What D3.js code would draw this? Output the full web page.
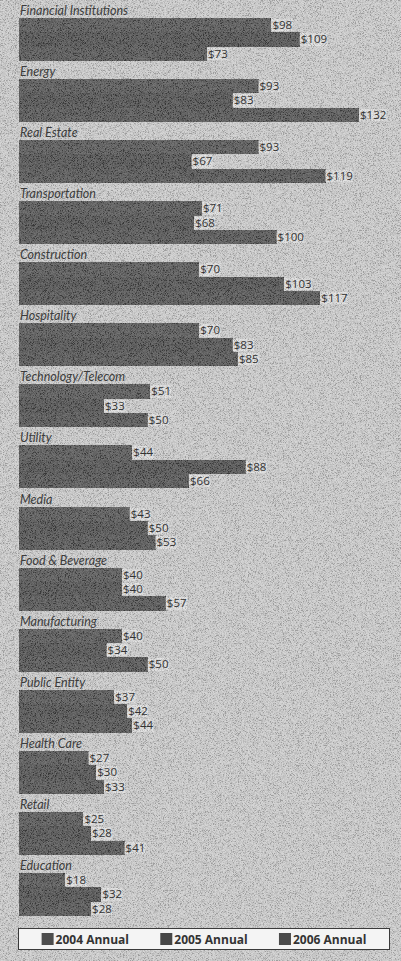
<!DOCTYPE html>
<html><head><meta charset="utf-8">
<script src="https://cdn.jsdelivr.net/npm/d3@7"></script>
<style>html,body{margin:0;padding:0;background:#cfcfcf;}svg{display:block;}</style>
</head><body>
<script>
const categories = ["Financial Institutions","Energy","Real Estate","Transportation","Construction","Hospitality","Technology/Telecom","Utility","Media","Food & Beverage","Manufacturing","Public Entity","Health Care","Retail","Education"];
const seriesNames = ["2004 Annual","2005 Annual","2006 Annual"];
const values2004 = [98,93,93,71,70,70,51,44,43,40,40,37,27,25,18];
const values2005 = [109,83,67,68,103,83,33,88,50,40,34,42,30,28,32];
const values2006 = [73,132,119,100,117,85,50,66,53,57,50,44,33,41,28];
const seriesValues = [values2004, values2005, values2006];

const W = 401, H = 961;
const svg = d3.select("body").append("svg").attr("width", W).attr("height", H);

const defs = svg.append("defs");
const f = defs.append("filter").attr("id","noise").attr("x",0).attr("y",0).attr("width","100%").attr("height","100%");
f.append("feTurbulence").attr("type","fractalNoise").attr("baseFrequency",1.4).attr("numOctaves",1).attr("seed",5).attr("result","t");
f.append("feColorMatrix").attr("in","t").attr("type","matrix")
  .attr("values","3 0 0 0 -1  3 0 0 0 -1  3 0 0 0 -1  0 0 0 0 0.22");

svg.append("rect").attr("width",W).attr("height",H).attr("fill","#cbcbcb");

const x = d3.scaleLinear().domain([0,132]).range([19,359]);
const y0 = d3.scaleBand().domain(categories).range([18, 18 + 61.07*15]).paddingInner(0).paddingOuter(0).round(false);
const barBlock = 43;
const y1 = d3.scaleBand().domain(seriesNames).range([0, barBlock]);
const colors = d3.scaleOrdinal().domain(seriesNames).range(["#4d4d4d","#464646","#4a4a4a"]);

const rows = categories.map((c,i) => seriesNames.map((s,j) => ({c, s, v: seriesValues[j][i]})));
const yTop = d => Math.round(y0(d.c) + y1(d.s));
const yBot = d => Math.round(y0(d.c) + y1(d.s) + y1.bandwidth());

const barLayer = svg.append("g");
barLayer.selectAll("rect.bar").data(rows.flat())
  .join("rect").attr("class","bar")
  .attr("x", x(0)).attr("y", yTop)
  .attr("width", d => x(d.v) - x(0)).attr("height", d => yBot(d) - yTop(d))
  .attr("shape-rendering","crispEdges")
  .attr("fill", d => colors(d.s));

// label backgrounds (under grain)
const bgLayer = svg.append("g");
bgLayer.selectAll("rect").data(rows.flat()).join("rect")
  .attr("x", d => x(d.v)).attr("y", d => yTop(d) + 1)
  .attr("height", d => yBot(d) - yTop(d) - 2)
  .attr("width", d => ("$"+d.v).length*6.4 + 2).attr("fill","#dedede");

// grain overlay
svg.append("rect").attr("width",W).attr("height",H).attr("filter","url(#noise)").attr("pointer-events","none");

const textLayer = svg.append("g");
textLayer.selectAll("text.cat").data(categories).join("text").attr("class","cat").text(d => d)
  .attr("x", 20).attr("y", d => y0(d) - 3)
  .attr("font-family","Lato, 'Noto Sans', sans-serif").attr("font-style","italic")
  .attr("font-size", 12.5).attr("fill","#3c3c3c");

textLayer.selectAll("text.val").data(rows.flat()).join("text").attr("class","val")
  .text(d => "$" + d.v)
  .attr("x", d => x(d.v) + 1).attr("y", d => (yTop(d) + yBot(d))/2 + 3.5)
  .attr("font-family","'Open Sans', 'Noto Sans', sans-serif").attr("font-size", 11.5)
  .attr("fill","#333");

// legend
const lg = svg.append("g");
lg.append("rect").attr("x",18.5).attr("y",928.5).attr("width",371).attr("height",21)
  .attr("fill","#f4f4f4").attr("stroke","#3a3a3a").attr("stroke-width",1);
const lx = d3.scaleBand().domain(seriesNames).range([26,382]);
const items = lg.selectAll("g.item").data(seriesNames).join("g").attr("class","item");
items.append("text").text(d => d)
  .attr("font-family","'Open Sans', 'Noto Sans', sans-serif").attr("font-weight","bold")
  .attr("font-size", 12).attr("fill","#333").attr("y", 943.5).attr("x", 0);
items.each(function(d){
  const g = d3.select(this);
  const tw = g.select("text").node().getComputedTextLength();
  const total = 12 + 2 + tw;
  const sx = lx(d) + lx.bandwidth()/2 - total/2;
  g.insert("rect","text").attr("x", sx).attr("y", 933).attr("width",12).attr("height",12).attr("fill", colors(d));
  g.select("text").attr("x", sx + 14);
});
</script>
</body></html>
